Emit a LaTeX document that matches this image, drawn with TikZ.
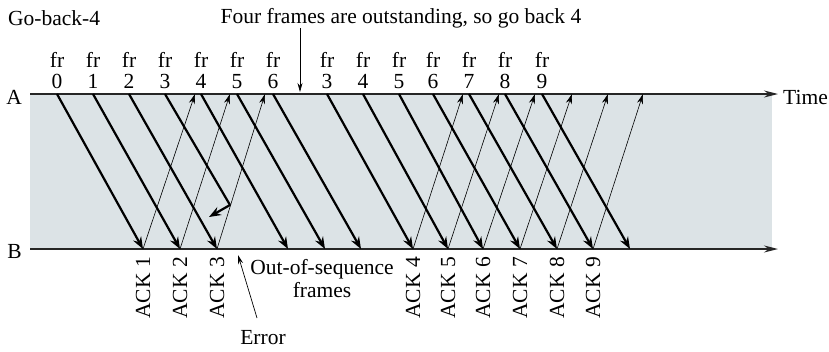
\documentclass[tikz,border=0pt]{standalone}
\usepackage{fontspec}
\setmainfont{Liberation Serif}
\usetikzlibrary{arrows.meta}
\definecolor{chan}{HTML}{DCE3E6}
\begin{document}
\begin{tikzpicture}[x=1pt,y=-1pt,
  txt/.style={inner sep=0pt,font=\fontsize{21.5}{21.5}\selectfont},
  lbl/.style={txt,align=center,anchor=south},
  acklbl/.style={txt,rotate=90,anchor=east},
  frame/.style={line width=2.2pt,-{Stealth[length=12pt,width=9pt,inset=4pt]}},
  ack/.style={line width=0.6pt,-{Stealth[length=10pt,width=6pt]}},
  axis/.style={line width=1.4pt,draw=black!85,-{Stealth[length=14pt,width=7pt]}},
  note/.style={line width=0.7pt,-{Stealth[length=9pt,width=5pt]}}]
\useasboundingbox (0,0) rectangle (829,351);
\fill[chan] (30,94) rectangle (772,249);
% axes
\coordinate (A0) at (30,94);
\coordinate (A1) at (778,94);
\coordinate (B0) at (30,249);
\coordinate (B1) at (778,249);
\draw[axis] (A0) -- (A1);
\draw[axis] (B0) -- (B1);
\node[txt,anchor=east] (Alab) at (22,97) {A};
\node[txt,anchor=east] (Blab) at (22,251) {B};
\node[txt,anchor=west] (time) at (783,97) {Time};
% frames
\foreach \s/\e/\n [count=\i] in {57/143/0,93/180/1,129/217/2,201/288/4,237/325/5,273/361/6,327/413/3,363/448/4,399/483/5,433/520/6,469/557/7,505/593/8,542/630/9}{
  \coordinate (fs\i) at (\s,94);
  \coordinate (fe\i) at (\e,249);
  \draw[frame] (fs\i) -- (fe\i);
  \node[lbl] (fl\i) at (\s,89) {fr\\\n};
}
% lost frame 3
\coordinate (ls) at (165,94);
\coordinate (lm) at (230,205);
\coordinate (le) at (209,217);
\draw[line width=2.2pt] (ls) -- (lm);
\draw[frame] (lm) -- (le);
\node[lbl] (fl3) at (165,89) {fr\\3};
% ACKs
\foreach \s/\e/\n in {143/195/1,180/230/2,217/265/3,413/463/4,448/499/5,483/535/6,520/572/7,557/608/8,593/643/9}{
  \coordinate (as\n) at (\s,249);
  \coordinate (ae\n) at (\e,94);
  \draw[ack] (as\n) -- (ae\n);
  \node[acklbl] (al\n) at (\s,257) {ACK \n};
}
% texts
\node[txt,anchor=west] (gb) at (8,18) {Go-back-4};
\node[txt] (four) at (401,18) {Four frames are outstanding, so go back 4};
\coordinate (fa) at (300,92);
\draw[note] (300,28) -- (fa);
\node[txt,align=center,font=\fontsize{21.5}{23}\selectfont] (oos) at (322,279) {Out-of-sequence\\frames};
\node[txt] (err) at (263,338) {Error};
\coordinate (et) at (238,255);
\draw[note] (257,318) -- (et);
\end{tikzpicture}
\end{document}
